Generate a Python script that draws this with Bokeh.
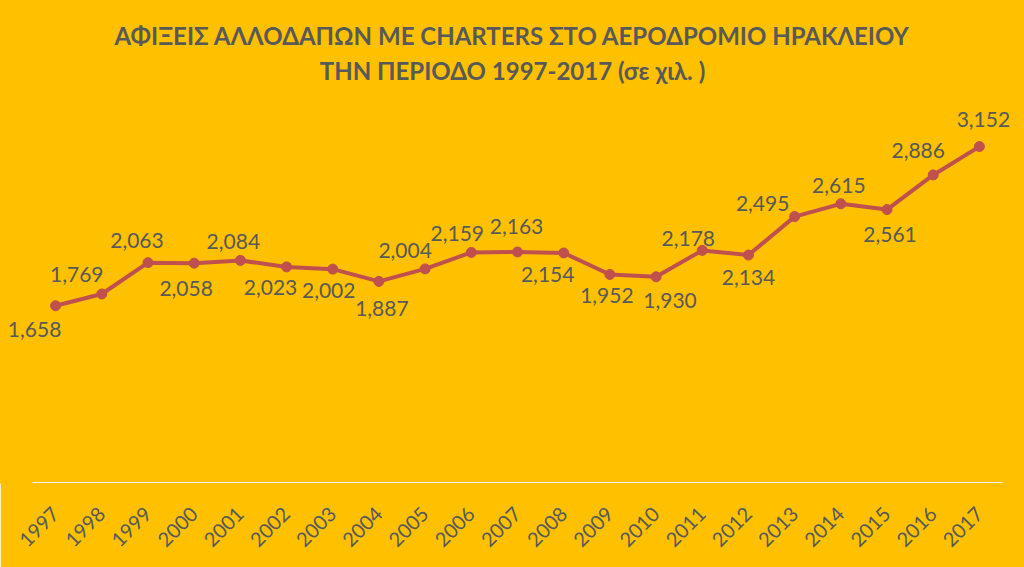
import math
from bokeh.plotting import figure
from bokeh.models import ColumnDataSource, Range1d, LabelSet, Label, FixedTicker
from bokeh.core.properties import value
from bokeh.embed import file_html
from bokeh.resources import INLINE

years = ["1997", "1998", "1999", "2000", "2001", "2002", "2003", "2004", "2005", "2006", "2007",
         "2008", "2009", "2010", "2011", "2012", "2013", "2014", "2015", "2016", "2017"]
arrivals = [1658, 1769, 2063, 2058, 2084, 2023, 2002, 1887, 2004, 2159, 2163,
            2154, 1952, 1930, 2178, 2134, 2495, 2615, 2561, 2886, 3152]

title_line1 = "ΑΦΙΞΕΙΣ ΑΛΛΟΔΑΠΩΝ ΜΕ CHARTERS ΣΤΟ ΑΕΡΟΔΡΟΜΙΟ ΗΡΑΚΛΕΙΟΥ"
title_line2 = "ΤΗΝ ΠΕΡΙΟΔΟ 1997-2017 (σε χιλ. )"

# data-label placement (screen pixel offsets, style only; positive dy = below the point)
label_dx = [-21, -25, -11, -8, -7, -16, -4, 3, -20, -14, -1, -16, -3, 14, -14, 0, -32, -2, 3, -15, 4]
label_dy = [24, -19, -22, 25, -19, 21, 21, 27, -18, -19, -25, 22, 21, 24, -12, 22, -13, -18, 25, -24, -27]

BG = "#FFC000"
TXT = "#595959"
LINE = "#C0504D"

idx = list(range(len(years)))
src = ColumnDataSource(dict(
    x=idx,
    year=years,
    val=arrivals,
    lab=[f"{v:,}" for v in arrivals],
    dx=label_dx,
    dy=[-d for d in label_dy],
))

# layout in pixels: plot area 32..1002 x 109..482, frame stretched over the whole upper part
W, H = 1024, 567
plot_left, plot_right = 32, 1002
plot_top, plot_bottom = 109, 482
y_top_value = 3500
slot = (plot_right - plot_left) / len(years)
x_start = -0.5 - plot_left / slot
x_end = len(years) - 0.5 + (W - plot_right) / slot
y_end = y_top_value * plot_bottom / (plot_bottom - plot_top)

p = figure(width=W, height=H, title=None,
           x_range=Range1d(x_start, x_end), y_range=Range1d(0, y_end),
           output_backend="svg", toolbar_location=None, y_axis_location=None,
           min_border_left=0, min_border_right=0, min_border_top=0, min_border_bottom=H - plot_bottom,
           background_fill_color=BG, border_fill_color=BG,
           outline_line_color=BG, outline_line_width=2)

for text, ty in ((title_line1, 35), (title_line2, 70)):
    p.add_layout(Label(x=W / 2, y=plot_bottom - ty, x_units="screen", y_units="screen", text=text,
                       text_align="center", text_baseline="middle", text_font="Lato",
                       text_font_size="24px", text_font_style="bold", text_color=TXT))

p.xgrid.visible = False
p.ygrid.visible = False

ax = p.xaxis[0]
ax.ticker = FixedTicker(ticks=idx)
ax.major_label_overrides = {i: y for i, y in zip(idx, years)}
ax.bounds = (-0.5, len(years) - 0.5)
ax.major_label_orientation = math.pi / 4
ax.major_tick_line_color = None
ax.minor_tick_line_color = None
ax.axis_line_color = "#F2F2F2"
ax.axis_line_width = 1
ax.major_label_text_font = "Lato"
ax.major_label_text_font_size = "20px"
ax.major_label_text_color = TXT
ax.major_label_standoff = 22

p.line("x", "val", source=src, line_color=LINE, line_width=4)
p.scatter("x", "val", source=src, size=10, fill_color=LINE, line_color=LINE)
p.add_layout(LabelSet(x="x", y="val", text="lab", source=src, x_offset="dx", y_offset="dy",
                      text_align="center", text_baseline="middle", text_font=value("Lato"),
                      text_font_size=value("21px"), text_color=TXT))

open("out.html", "w").write(file_html(p, INLINE))
